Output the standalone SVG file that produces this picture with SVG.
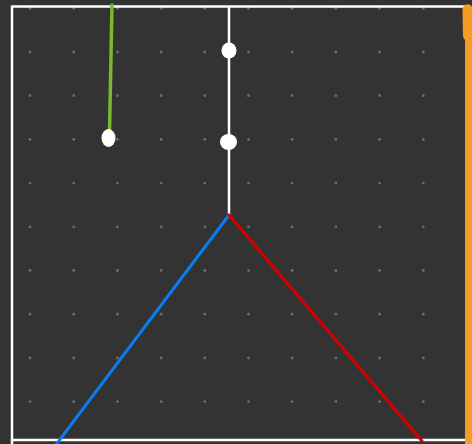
<svg xmlns="http://www.w3.org/2000/svg" width="472" height="444" viewBox="0 0 472 444">
<defs>
<circle id="d" r="1.4" fill="#6e6e6e"/>
<g id="row">
<use href="#d" x="30"/><use href="#d" x="73.7"/><use href="#d" x="117.4"/><use href="#d" x="161.1"/><use href="#d" x="204.8"/><use href="#d" x="248.5"/><use href="#d" x="292.2"/><use href="#d" x="335.9"/><use href="#d" x="379.6"/><use href="#d" x="423.3"/>
</g>
<style>
.ln{fill:none;stroke-linecap:round;stroke-linejoin:round}
.blob{fill:#ffffff}
</style>
</defs>
<rect width="472" height="444" fill="#333333"/>
<g id="grid">
<use href="#row" y="8.3"/><use href="#row" y="52"/><use href="#row" y="95.7"/><use href="#row" y="139.4"/><use href="#row" y="183.1"/><use href="#row" y="226.8"/><use href="#row" y="270.5"/><use href="#row" y="314.2"/><use href="#row" y="357.9"/><use href="#row" y="401.6"/>
</g>
<path class="ln" d="M12,444 L12,6.5 L465,6.5" stroke="#ffffff" stroke-width="2.5"/>
<path class="ln" d="M12,440 L465,440" stroke="#ffffff" stroke-width="2.5"/>
<g id="connectors">
<path class="ln" d="M229,8 L229,215" stroke="#ffffff" stroke-width="2.5"/>
<path class="ln" d="M112,5 L109.5,132" stroke="#78b833" stroke-width="3.5"/>
<path class="ln" d="M229,215 L55,446" stroke="#0a7cf2" stroke-width="3"/>
<path class="ln" d="M229,215 L422,441" stroke="#d40000" stroke-width="3"/>
<path class="ln" d="M468.5,8 L468.5,444" stroke="#f59c22" stroke-width="7"/>
<path class="ln" d="M467,9 L467.5,36" stroke="#f59c22" stroke-width="9"/>
</g>
<g id="node1"><ellipse class="blob" cx="229" cy="50.5" rx="7.5" ry="8"/></g>
<g id="node2"><ellipse class="blob" cx="228.5" cy="142" rx="8.5" ry="8"/></g>
<g id="node3"><ellipse class="blob" cx="108.5" cy="138" rx="7" ry="9"/></g>
</svg>
